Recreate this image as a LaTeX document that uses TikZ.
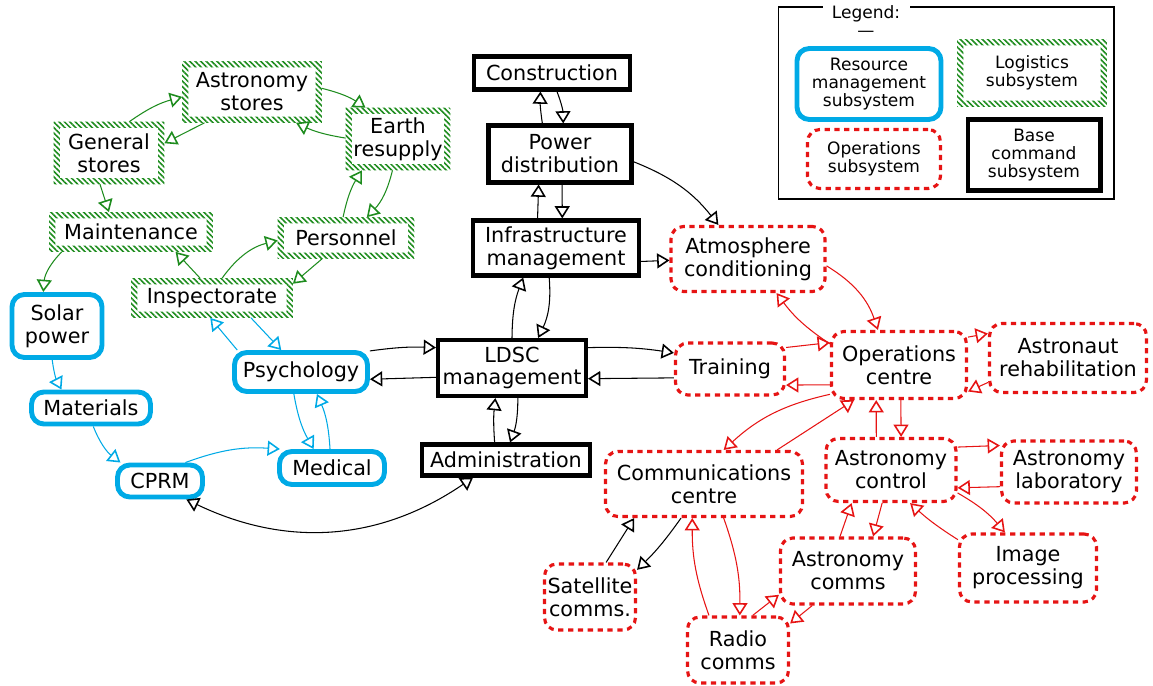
\documentclass[tikz,border=0pt]{standalone}
\usepackage{fontspec}
\setmainfont{DejaVu Sans}
\usetikzlibrary{arrows.meta,patterns.meta}

\definecolor{logigreen}{RGB}{30,140,30}
\definecolor{resblue}{RGB}{0,170,230}
\definecolor{opred}{RGB}{230,20,20}

\begin{document}
\begin{tikzpicture}[
  x=0.02cm, y=0.02cm,
  >={Triangle[open,length=7pt,width=8.5pt,line width=0.9pt]},
  box/.style={rectangle, align=center, inner sep=1pt, font=\fontsize{11.8}{13}\selectfont},
  logistics/.style={box},
  hatch/.style={even odd rule, pattern={Lines[angle=-45,distance=2.2pt,line width=0.9pt]}, pattern color=logigreen},
  resource/.style={box, draw=resblue, line width=2.8pt, rounded corners=7pt},
  operations/.style={box, draw=opred, line width=1.8pt, dash pattern=on 3pt off 2.6pt, rounded corners=7pt},
  basecmd/.style={box, draw, line width=2.3pt},
  legendtext/.style={font=\fontsize{9.7}{10.3}\selectfont},
  arrow/.style={->, line width=0.6pt},
  garrow/.style={arrow, draw=logigreen},
  barrow/.style={arrow, draw=resblue},
  rarrow/.style={arrow, draw=opred}
]
\useasboundingbox (0,0) rectangle (1153,-686);

% Legend
\node[draw, line width=0.6pt, minimum width=6.72cm, minimum height=3.84cm] (legend) at (946,-103) {};
\node[legendtext, fill=white, minimum width=1.74cm, align=center, inner sep=1pt] (legtitle) at (866,-21) {Legend:\\—};
\node[resource, legendtext, minimum width=2.88cm, minimum height=1.42cm] (legres) at (869,-84) {Resource\\management\\subsystem};
\node[logistics, legendtext, minimum width=2.98cm, minimum height=1.34cm] (leglogi) at (1032,-73) {Logistics\\subsystem};
\node[operations, legendtext, minimum width=2.66cm, minimum height=1.18cm] (legops) at (874,-159) {Operations\\subsystem};
\node[basecmd, legendtext, minimum width=2.66cm, minimum height=1.42cm] (legbase) at (1034,-155) {Base\\command\\subsystem};

% Logistics subsystem
\node[logistics, minimum width=2.78cm, minimum height=1.22cm] (astrost) at (252,-92) {Astronomy\\stores};
\node[logistics, minimum width=2.2cm, minimum height=1.24cm] (genst) at (109,-153) {General\\stores};
\node[logistics, minimum width=2.08cm, minimum height=1.24cm] (earth) at (398,-139) {Earth\\resupply};
\node[logistics, minimum width=3.26cm, minimum height=0.78cm] (maint) at (131,-232) {Maintenance};
\node[logistics, minimum width=2.72cm, minimum height=0.82cm] (pers) at (346,-238) {Personnel};
\node[logistics, minimum width=3.22cm, minimum height=0.78cm] (insp) at (212,-298) {Inspectorate};

% Resource management subsystem
\node[resource, minimum width=1.8cm, minimum height=1.26cm] (solar) at (57,-326) {Solar\\power};
\node[resource, minimum width=2.38cm, minimum height=0.64cm] (mater) at (91,-408) {Materials};
\node[resource, minimum width=1.7cm, minimum height=0.64cm] (cprm) at (160,-481) {CPRM};
\node[resource, minimum width=2.66cm, minimum height=0.78cm] (psych) at (301,-372) {Psychology};
\node[resource, minimum width=2.1cm, minimum height=0.66cm] (medic) at (332,-468) {Medical};

% Base command subsystem
\node[basecmd, minimum width=3.12cm, minimum height=0.66cm] (constr) at (552,-73) {Construction};
\node[basecmd, minimum width=2.86cm, minimum height=1.14cm] (power) at (560,-154) {Power\\distribution};
\node[basecmd, minimum width=3.32cm, minimum height=1.1cm] (infra) at (556,-248) {Infrastructure\\management};
\node[basecmd, minimum width=2.96cm, minimum height=1.12cm] (ldsc) at (512,-368) {LDSC\\management};
\node[basecmd, minimum width=3.36cm, minimum height=0.62cm] (admin) at (506,-460) {Administration};

% Operations subsystem
\node[operations, minimum width=3.08cm, minimum height=1.3cm] (atmos) at (748,-259) {Atmosphere\\conditioning};
\node[operations, minimum width=2.18cm, minimum height=1.04cm] (train) at (730,-369) {Training};
\node[operations, minimum width=2.7cm, minimum height=1.34cm] (ops) at (899,-365) {Operations\\centre};
\node[operations, minimum width=3.14cm, minimum height=1.38cm] (rehab) at (1068,-358) {Astronaut\\rehabilitation};
\node[operations, minimum width=3.94cm, minimum height=1.3cm] (comms) at (704,-484) {Communications\\centre};
\node[operations, minimum width=2.6cm, minimum height=1.26cm] (actrl) at (891,-470) {Astronomy\\control};
\node[operations, minimum width=2.7cm, minimum height=1.24cm] (alab) at (1069,-472) {Astronomy\\laboratory};
\node[operations, minimum width=1.82cm, minimum height=1.32cm] (sat) at (590,-597) {Satellite\\comms.};
\node[operations, minimum width=2.7cm, minimum height=1.32cm] (acomms) at (848,-571) {Astronomy\\comms};
\node[operations, minimum width=2.74cm, minimum height=1.36cm] (image) at (1028,-568) {Image\\processing};
\node[operations, minimum width=2.02cm, minimum height=1.32cm] (radio) at (738,-650) {Radio\\comms};

% Hatched frames
\foreach \n in {astrost,genst,earth,maint,pers,insp,leglogi}
  \fill[hatch] (\n.south west) rectangle (\n.north east)
    ([shift={(3.6pt,3.6pt)}]\n.south west) rectangle ([shift={(-3.6pt,-3.6pt)}]\n.north east);

% Logistics links
\draw[garrow] (genst.57) to[bend left=10] (astrost.184);
\draw[garrow] (astrost.213) -- (genst.10);
\draw[garrow] (astrost.3) to[bend left=10] (earth.136);
\draw[garrow] (earth.179) to[bend left=8] (astrost.325);
\draw[garrow] (genst.254) -- (maint.138);
\draw[garrow] (maint.196) to[bend right=20] (solar.112);
\draw[garrow] (pers.98) to[bend left=10] (earth.221);
\draw[garrow] (earth.260) to[bend left=15] (pers.45);
\draw[garrow] (insp.121) -- (maint.336);
\draw[garrow] (insp.63) to[bend left=20] (pers.182);
\draw[garrow] (pers.221) -- (insp.10);

% Resource links
\draw[barrow] (solar.262) to[bend right=10] (mater.148);
\draw[barrow] (mater.277) to[bend right=15] (cprm.155);
\draw[barrow] (cprm.36) to[bend left=12] (medic.160);
\draw[barrow] (psych.161) -- (insp.265);
\draw[barrow] (insp.333) -- (psych.132);
\draw[barrow] (psych.252) to[bend right=10] (medic.134);
\draw[barrow] (medic.96) to[bend right=10] (psych.306);

% Base command links
\draw[arrow] (power.120) to[bend left=5] (constr.238);
\draw[arrow] (constr.285) to[bend left=10] (power.84);
\draw[arrow] (infra.122) -- (power.235);
\draw[arrow] (power.274) -- (infra.78);
\draw[arrow] (ldsc.90) to[bend left=10] (infra.222);
\draw[arrow] (infra.257) to[bend left=15] (ldsc.49);
\draw[arrow] (power.354) to[bend left=15] (atmos.131);
\draw[arrow] (infra.351) -- (atmos.181);
\draw[arrow] (psych.17) to[bend left=5] (ldsc.165);
\draw[arrow] (ldsc.187) -- (psych.354);
\draw[arrow] (ldsc.15) to[bend left=5] (train.164);
\draw[arrow] (train.189) -- (ldsc.352);
\draw[arrow] (admin.123) to[bend left=5] (ldsc.241);
\draw[arrow] (ldsc.281) to[bend left=10] (admin.77);
\draw[arrow, <->] (cprm.325) to[bend right=30] (admin.208);
\draw[arrow] (sat.65) -- (comms.206);
\draw[arrow] (comms.236) to[bend left=5] (sat.30);

% Operations links
\draw[rarrow] (atmos.355) to[bend left=20] (ops.121);
\draw[rarrow] (ops.163) to[bend left=10] (atmos.310);
\draw[rarrow] (train.21) -- (ops.162);
\draw[rarrow] (ops.196) -- (train.344);
\draw[rarrow] (ops.22) -- (rehab.163);
\draw[rarrow] (rehab.197) -- (ops.339);
\draw[rarrow] (ops.203) to[bend right=15] (comms.60);
\draw[rarrow] (comms.25) -- (ops.218);
\draw[rarrow] (actrl.114) -- (ops.237);
\draw[rarrow] (ops.273) -- (actrl.73);
\draw[rarrow] (actrl.19) -- (alab.159);
\draw[rarrow] (alab.192) -- (actrl.345);
\draw[rarrow] (actrl.341) to[bend left=10] (image.123);
\draw[rarrow] (image.158) to[bend left=5] (actrl.300);
\draw[rarrow] (acomms.103) -- (actrl.220);
\draw[rarrow] (actrl.255) -- (acomms.54);
\draw[rarrow] (radio.130) to[bend left=10] (comms.251);
\draw[rarrow] (comms.300) to[bend left=10] (radio.87);
\draw[rarrow] (radio.67) -- (acomms.199);
\draw[rarrow] (acomms.224) -- (radio.27);

\end{tikzpicture}
\end{document}
